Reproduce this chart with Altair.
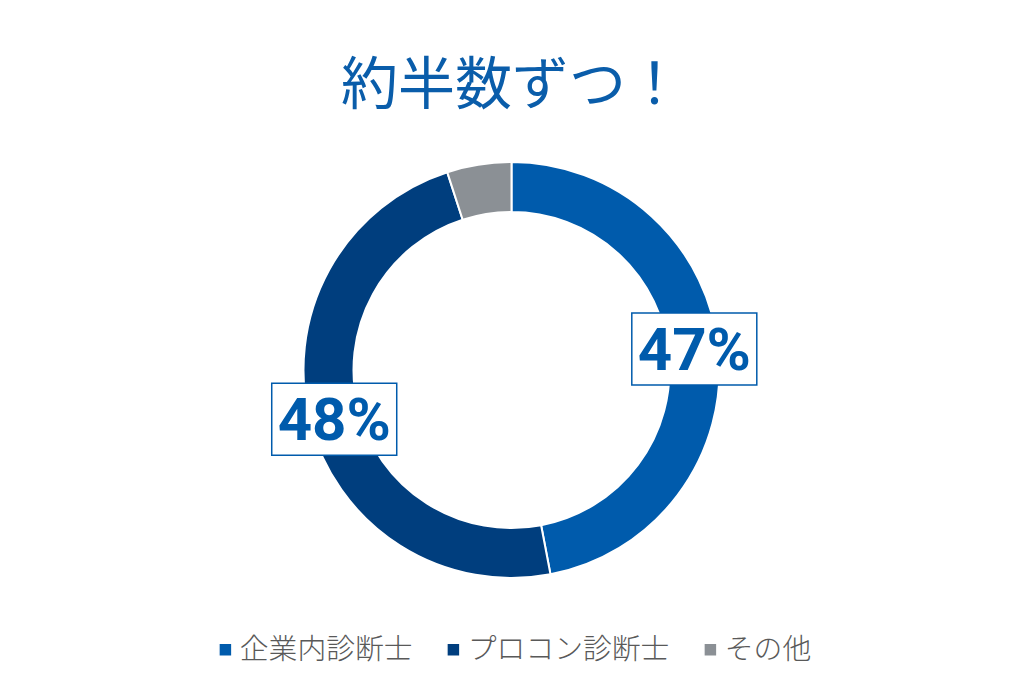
import altair as alt
import pandas as pd

categories = ["企業内診断士", "プロコン診断士", "その他"]
values = [47, 48, 5]
colors = ["#005BAC", "#003E7E", "#8B9095"]
title_text = "約半数ずつ！"

df = pd.DataFrame({"category": categories, "value": values, "order": list(range(len(values)))})

CX, CY = 503.5, 362
R_OUT, R_IN, R_LAB = 208, 158, 184
BW, BH = 125, 72
BLUE = "#005BAC"

base = alt.Chart(df)

arcs = base.mark_arc(outerRadius=R_OUT, innerRadius=R_IN, stroke="white", strokeWidth=2).encode(
    theta=alt.Theta("value:Q", stack=True),
    order=alt.Order("order:Q"),
    color=alt.Color("category:N", sort=categories,
                    scale=alt.Scale(domain=categories, range=colors),
                    legend=alt.Legend(title=None)),
    x=alt.value(CX), y=alt.value(CY),
)

lab = base.transform_joinaggregate(total="sum(value)").transform_window(
    cum="sum(value)", sort=[alt.SortField("order")], frame=[None, 0]
).transform_calculate(
    mid="(datum.cum - datum.value/2)/datum.total*2*PI - 0.02",
    label="datum.value + '%'",
).transform_calculate(
    px=f"{CX} + {R_LAB}*sin(datum.mid)",
    py=f"{CY} - {R_LAB}*cos(datum.mid)",
).transform_calculate(
    x1=f"datum.px - {BW/2}", x2=f"datum.px + {BW/2}",
    y1=f"datum.py - {BH/2}", y2=f"datum.py + {BH/2}",
).transform_filter("datum.value >= 10")

boxes = lab.mark_rect(fill="white", stroke=BLUE, strokeWidth=1.5).encode(
    x=alt.X("x1:Q", scale=None, axis=None), x2="x2:Q",
    y=alt.Y("y1:Q", scale=None, axis=None), y2="y2:Q",
)

texts = lab.mark_text(font="Roboto", fontWeight="bold", fontSize=60, color=BLUE,
                      align="center", baseline="middle", dy=3).encode(
    x=alt.X("px:Q", scale=None, axis=None),
    y=alt.Y("py:Q", scale=None, axis=None),
    text="label:N",
)

chart = alt.layer(arcs, boxes, texts).properties(
    width=1008, height=666,
    autosize=alt.AutoSizeParams(type="none"),
    padding=0,
    title=alt.TitleParams(title_text, font="Noto Sans CJK JP", fontSize=57, fontWeight="normal",
                          color="#0A5DAA", anchor="middle", orient="top", offset=-108, dx=0),
).configure_view(stroke=None).configure_legend(
    orient="none", legendX=203, legendY=627, direction="horizontal",
    symbolType="square", symbolSize=169, labelFontSize=28.8, labelColor="#595959",
    labelFont="Noto Sans CJK JP", labelFontWeight=300,
    columnPadding=26, labelOffset=0, labelLimit=0,
)

chart.save("out.html", embed_options={"renderer": "svg", "actions": False})
